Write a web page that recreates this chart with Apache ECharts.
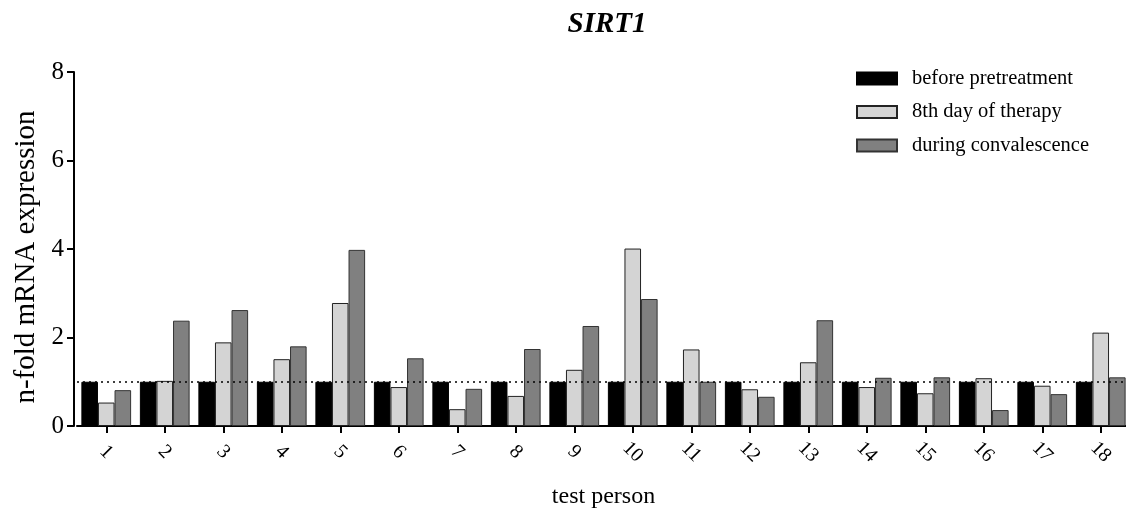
<!DOCTYPE html>
<html>
<head>
<meta charset="utf-8">
<script src="https://cdn.jsdelivr.net/npm/echarts@6/dist/echarts.min.js"></script>
<style>html,body{margin:0;padding:0;background:#fff}#c{width:1126px;height:508px}</style>
</head>
<body>
<div id="c"></div>
<script>
const categories = ['1','2','3','4','5','6','7','8','9','10','11','12','13','14','15','16','17','18'];
const seriesNames = ['before pretreatment','8th day of therapy','during convalescence'];
const beforePretreatment = [1,1,1,1,1,1,1,1,1,1,1,1,1,1,1,1,1,1];
const day8Therapy = [0.53,1.02,1.89,1.51,2.78,0.88,0.38,0.68,1.27,4.01,1.73,0.83,1.44,0.88,0.74,1.08,0.91,2.11];
const convalescence = [0.81,2.38,2.62,1.80,3.98,1.53,0.84,1.74,2.26,2.87,1.00,0.66,2.39,1.09,1.10,0.36,0.72,1.10];
const yTicks = [0,2,4,6,8];

const font = '"Liberation Serif", "DejaVu Serif", serif';
const chart = echarts.init(document.getElementById('c'));
const barStyle = (fill, border) => ({color: fill, borderColor: border, borderWidth: 1});
chart.setOption({
  animation: false,
  backgroundColor: '#fff',
  title: {
    text: 'SIRT1', left: 602, top: 5, textAlign: 'center',
    textStyle: {fontFamily: font, fontSize: 29, fontStyle: 'italic', fontWeight: 'bold', color: '#000'}
  },
  legend: {
    data: seriesNames, orient: 'vertical', left: 851, top: 63,
    icon: 'rect', itemWidth: 40, itemHeight: 12, itemGap: 12.5,
    textStyle: {fontFamily: font, fontSize: 20.5, color: '#000', padding: [0,0,0,10]}
  },
  grid: {left: 77, right: -4, top: 72, bottom: 82, containLabel: false, outerBoundsMode: 'none'},
  xAxis: {
    type: 'category', data: categories,
    name: 'test person', nameLocation: 'middle', nameGap: 59,
    nameTextStyle: {fontFamily: font, fontSize: 24, color: '#000'},
    axisLine: {lineStyle: {color: '#000', width: 2}},
    axisTick: {show: true, alignWithLabel: true, length: 7, lineStyle: {color: '#000', width: 2}},
    axisLabel: {rotate: -45, align: 'center', verticalAlign: 'middle', fontFamily: font, fontSize: 20, color: '#000', margin: 26}
  },
  yAxis: {
    type: 'value', min: yTicks[0], max: yTicks[yTicks.length-1], interval: 2, offset: 3,
    name: 'n-fold mRNA expression', nameLocation: 'middle', nameGap: 26, nameRotate: 90,
    nameTextStyle: {fontFamily: font, fontSize: 29, color: '#000', padding: [0, 16, 0, 0]},
    axisLine: {show: true, lineStyle: {color: '#000', width: 2}},
    axisTick: {show: true, length: 7, lineStyle: {color: '#000', width: 2}},
    splitLine: {show: false},
    axisLabel: {fontFamily: font, fontSize: 25, color: '#000', margin: 10}
  },
  series: [
    {name: seriesNames[0], type: 'bar', data: beforePretreatment, barGap: '0%', barCategoryGap: '15%',
     itemStyle: barStyle('#000000', '#000000'), z: 3},
    {name: seriesNames[1], type: 'bar', data: day8Therapy, barGap: '0%', barCategoryGap: '15%',
     itemStyle: barStyle('#d4d4d4', '#222'), z: 3},
    {name: seriesNames[2], type: 'bar', data: convalescence, barGap: '0%', barCategoryGap: '15%',
     itemStyle: barStyle('#808080', '#333'), z: 3},
    {name: 'ref', type: 'line', data: [], z: 1, silent: true,
     markLine: {silent: true, symbol: 'none', label: {show: false},
       lineStyle: {type: [2, 4], color: '#000', width: 1.5},
       data: [{yAxis: 1}]}}
  ]
});
</script>
</body>
</html>
